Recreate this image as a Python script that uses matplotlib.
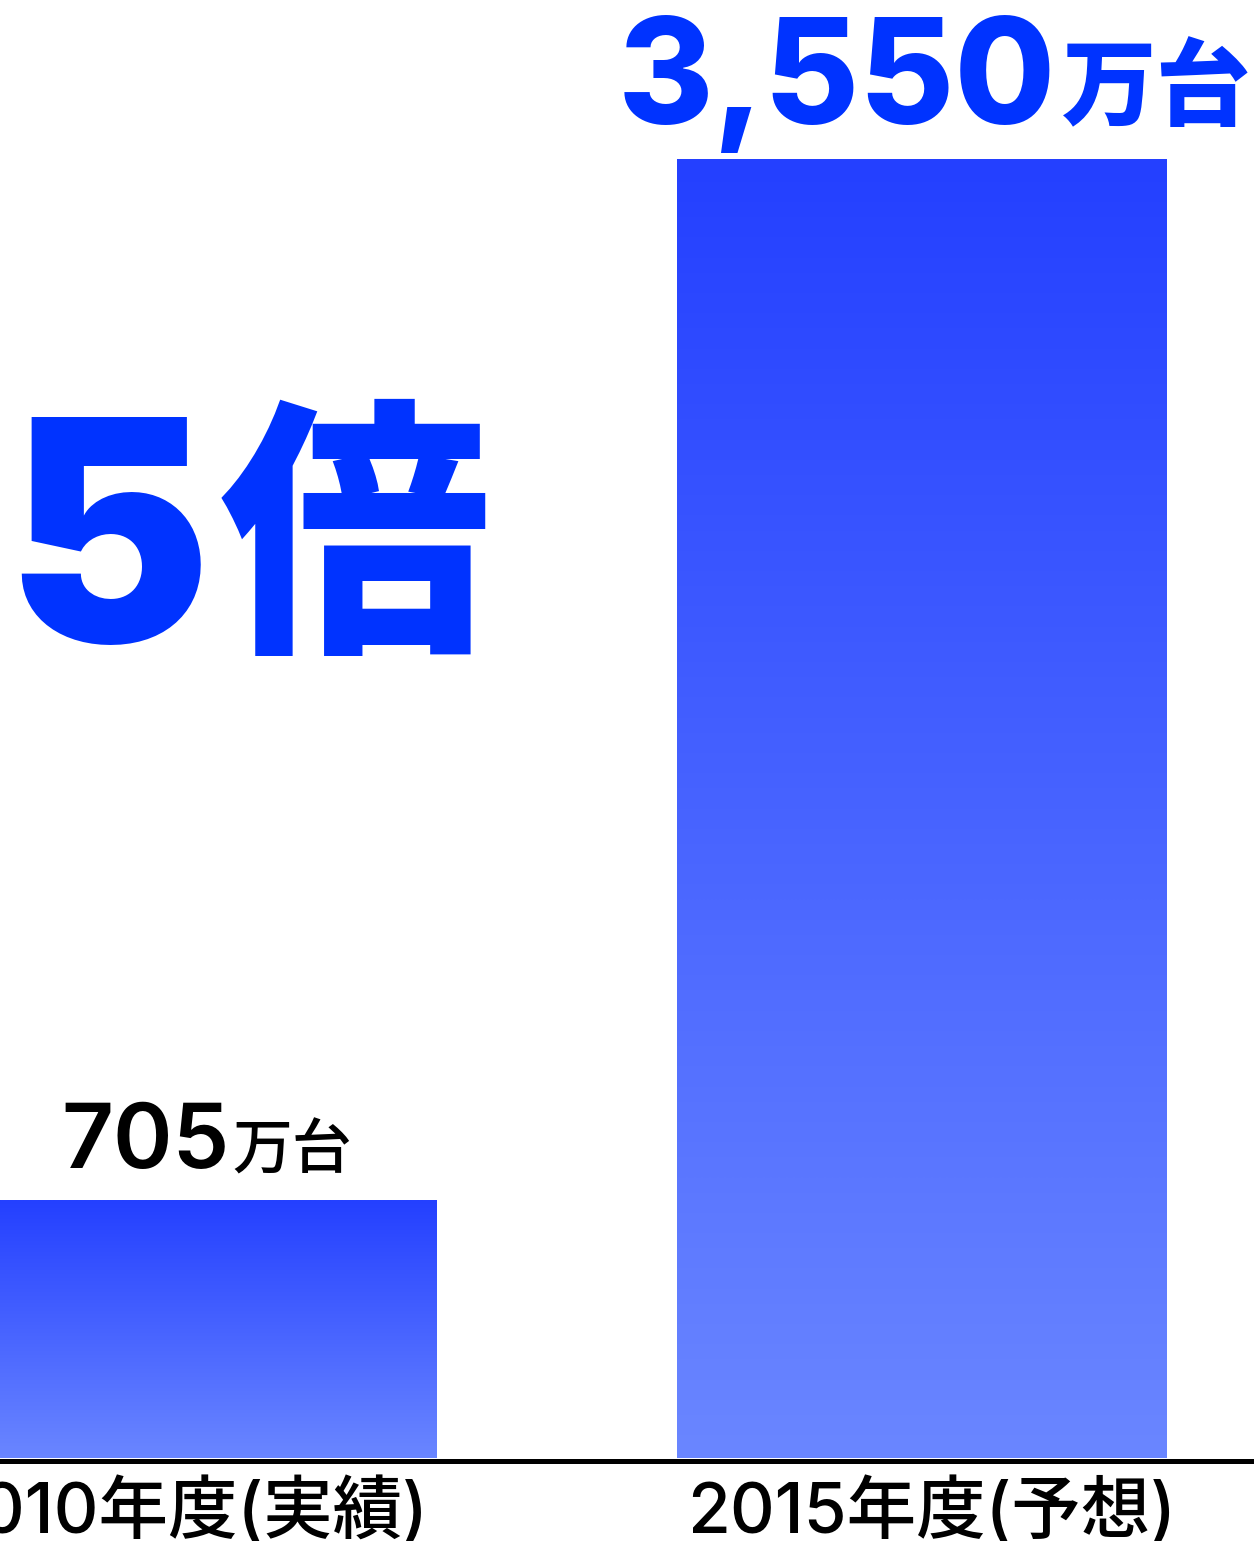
import matplotlib
matplotlib.use("Agg")
import matplotlib.pyplot as plt
import numpy as np
from matplotlib.colors import LinearSegmentedColormap

FAM = ['Inter', 'Noto Sans CJK JP', 'DejaVu Sans']
CJK = ['Noto Sans CJK JP', 'DejaVu Sans']
plt.rcParams['font.family'] = FAM

categories = ["2010年度(実績)", "2015年度(予想)"]
values = [705, 3550]
value_labels = ["705", "3,550"]
unit = "万台"
ratio_label = "5倍"

W, H = 1254, 1541
fig = plt.figure(figsize=(W / 100, H / 100), dpi=100)
base_px = 1458
ax = fig.add_axes([0, (H - base_px) / H, 1, base_px / H])
ax.set_axis_off()

x = np.arange(len(categories))
width = 0.67
xlim = (-191.5 / 730, (W - 191.5) / 730)
ymax = values[1] * base_px / 1298
ax.set_xlim(*xlim)
ax.set_ylim(0, ymax)

cmap = LinearSegmentedColormap.from_list("g", ["#6A86FF", "#2440FF"])
grad = np.linspace(0, 1, 256).reshape(-1, 1)
bars = ax.bar(x, values, width=width, color="none")
for b in bars:
    x0, y0 = b.get_x(), b.get_y()
    w, h = b.get_width(), b.get_height()
    ax.imshow(grad, extent=(x0, x0 + w, y0, y0 + h), origin="lower",
              cmap=cmap, aspect="auto", zorder=1, interpolation="bilinear")
ax.set_xlim(*xlim)
ax.set_ylim(0, ymax)

# baseline
ax.axhline(-2.5 * ymax / base_px, color="black", lw=3.6, clip_on=False, zorder=3)

blue = "#0033FF"
# value labels
specs = [
    dict(num_size=65, unit_size=43, color="black", weight="semibold", uweight="medium", join=38, dy=32, gap=3, udy=0),
    dict(num_size=105, unit_size=68, color=blue, weight="heavy", uweight="black", join=134, dy=36, gap=6, udy=6),
]
for i, (v, lab) in enumerate(zip(values, value_labels)):
    s = specs[i]
    ax.annotate(lab, xy=(x[i], v), xytext=(s["join"], s["dy"]), textcoords="offset pixels",
                ha="right", va="baseline", fontsize=s["num_size"], color=s["color"],
                fontweight=s["weight"], annotation_clip=False)
    ax.annotate(unit, xy=(x[i], v), xytext=(s["join"] + s["gap"], s["dy"] + s["udy"]), textcoords="offset pixels",
                ha="left", va="baseline", fontsize=s["unit_size"], color=s["color"],
                fontweight=s["uweight"], family=CJK, annotation_clip=False)

# category labels
label_dx = [-9.5, 10.5]
for i, c in enumerate(categories):
    ax.annotate(c, xy=(x[i], 0), xytext=(label_dx[i], -75), textcoords="offset pixels",
                ha="center", va="baseline", fontsize=50, color="black",
                fontweight="medium", annotation_clip=False)

# ratio label
fig.text(210 / W, 1 - 642 / H, ratio_label[0], ha="right", va="baseline",
         fontsize=222, color=blue, fontweight="black")
fig.text(220 / W, 1 - 630 / H, ratio_label[1], ha="left", va="baseline",
         fontsize=195, color=blue, fontweight="black", family=CJK)

fig.savefig("out.png", dpi=100)
